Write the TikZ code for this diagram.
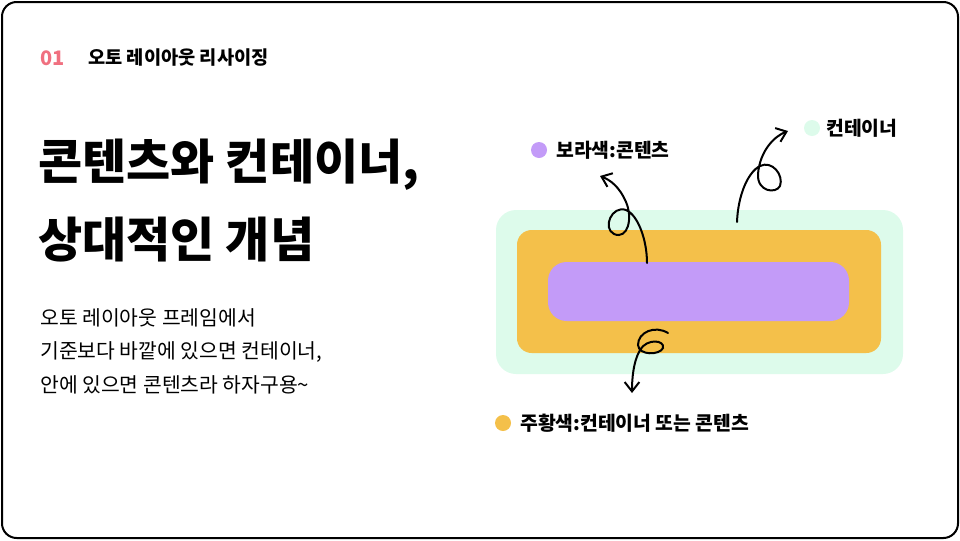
\documentclass[tikz,border=0pt]{standalone}
\usepackage{fontspec}
\setmainfont{Noto Sans CJK KR}
\usetikzlibrary{arrows.meta}
\definecolor{mint}{HTML}{DDFBEB}
\definecolor{amber}{HTML}{F4C04A}
\definecolor{lilac}{HTML}{C39BF8}
\definecolor{pinky}{HTML}{F07080}
\tikzset{
  label text/.style={anchor=west, inner sep=0pt, font=\fontsize{14.5}{16}\selectfont\bfseries},
  body text/.style={anchor=west, inner sep=0pt, font=\fontsize{15.3}{17}\selectfont},
  title text/.style={anchor=west, inner sep=0pt, font=\fontsize{36}{40}\selectfont\bfseries},
  squiggle/.style={draw=black, line width=1.5pt, line cap=round, -{Straight Barb[length=7pt,width=11pt]}}
}
\begin{document}
\begin{tikzpicture}[x=0.75pt,y=-0.75pt]
  \useasboundingbox (0,0) rectangle (960,540);
  % frame
  \draw[line width=1.5pt, rounded corners=11pt] (2,2) rectangle (958,538);

  % header
  \node[anchor=west, inner sep=0pt, text=pinky, font=\fontsize{15}{16}\selectfont\bfseries] (num) at (40,58) {01};
  \node[anchor=west, inner sep=0pt, font=\fontsize{14}{16}\selectfont\bfseries] (head) at (88,58) {오토 레이아웃 리사이징};

  % title
  \node[title text] (title1) at (38,165) {콘텐츠와 컨테이너,};
  \node[title text] (title2) at (38,240) {상대적인 개념};

  % body
  \node[body text] (body1) at (40,318) {오토 레이아웃 프레임에서};
  \node[body text] (body2) at (40,352) {기준보다 바깥에 있으면 컨테이너,};
  \node[body text] (body3) at (40,385) {안에 있으면 콘텐츠라 하자구용\textasciitilde};

  % boxes
  \fill[mint, rounded corners=15pt] (496,210) rectangle (903,374);
  \fill[amber, rounded corners=11pt] (517,230) rectangle (881,353);
  \fill[lilac, rounded corners=14pt] (548,262) rectangle (849,321);

  % legend
  \fill[lilac] (539,150) circle (8);
  \node[label text] (lilaclab) at (556,150) {보라색:콘텐츠};
  \fill[mint] (812,128) circle (8);
  \node[label text] (mintlab) at (826,128) {컨테이너};
  \fill[amber] (503,423) circle (8);
  \node[label text] (amberlab) at (520,423) {주황색:컨테이너 또는 콘텐츠};

  % squiggly arrows
  \draw[squiggle] (647,263) .. controls (647,240) and (638,215) .. (626,210)
     .. controls (612,205) and (602,228) .. (614,234)
     .. controls (628,240) and (633,218) .. (626,202)
     .. controls (619,186) and (610,180) .. (600,176);
  \draw[squiggle] (737,222) .. controls (738,195) and (748,172) .. (760,166)
     .. controls (772,160) and (784,175) .. (780,186)
     .. controls (776,194) and (757,192) .. (758,174)
     .. controls (760,150) and (775,136) .. (788,131);
  \draw[squiggle] (668,333) .. controls (655,325) and (638,332) .. (638,345)
     .. controls (639,356) and (660,355) .. (663,348)
     .. controls (665,340) and (647,338) .. (640,350)
     .. controls (633,362) and (632,380) .. (632,393);
\end{tikzpicture}
\end{document}
